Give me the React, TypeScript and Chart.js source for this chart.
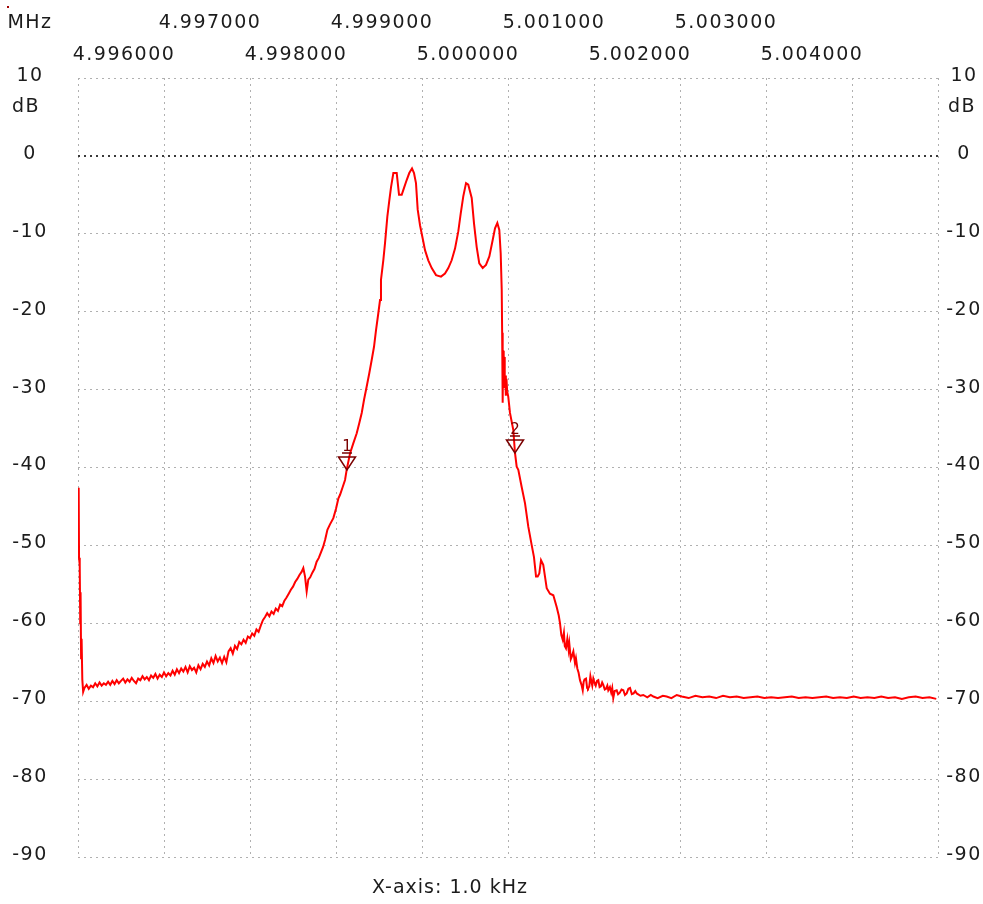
import React, { useEffect, useRef } from "react";
import { Chart, registerables } from "chart.js";

Chart.register(...registerables);

// ---- Trace data (frequency in kHz, level in dB) ----
// Start spike + lower stop-band (left side)
const leftFreqKHz = [
  4996.008, 4996.012, 4996.02, 4996.026, 4996.03, 4996.036, 4996.042, 4996.05, 4996.06,
  4996.075, 4996.1, 4996.125, 4996.15, 4996.175, 4996.2, 4996.225, 4996.25, 4996.275, 4996.3,
  4996.325, 4996.35, 4996.375, 4996.4, 4996.425, 4996.45, 4996.475, 4996.5, 4996.525, 4996.55,
  4996.575, 4996.6, 4996.625, 4996.65, 4996.675, 4996.7, 4996.725, 4996.75, 4996.775, 4996.8,
  4996.825, 4996.85, 4996.875, 4996.9, 4996.925, 4996.95, 4996.975, 4997.0, 4997.025, 4997.05,
  4997.075, 4997.1, 4997.125, 4997.15, 4997.175, 4997.2, 4997.225, 4997.25, 4997.275, 4997.3,
  4997.325, 4997.35, 4997.375, 4997.4, 4997.425, 4997.45, 4997.475, 4997.5, 4997.525, 4997.55,
  4997.575, 4997.6, 4997.625, 4997.65, 4997.675, 4997.7, 4997.725, 4997.75, 4997.775, 4997.8,
  4997.825, 4997.85, 4997.875, 4997.9, 4997.925, 4997.95, 4997.975, 4998.0, 4998.025, 4998.05,
  4998.075, 4998.1, 4998.125, 4998.15, 4998.175, 4998.2, 4998.225, 4998.25, 4998.275, 4998.3,
  4998.325, 4998.35, 4998.375, 4998.4, 4998.425, 4998.45, 4998.475, 4998.5, 4998.525, 4998.55,
  4998.575, 4998.6, 4998.62, 4998.64, 4998.659, 4998.678, 4998.7, 4998.725, 4998.75, 4998.775,
  4998.8, 4998.825, 4998.85, 4998.875, 4998.9, 4998.93, 4998.969,
];
const leftDb = [
  -42.6, -51.6, -52.5, -60.0, -56.0, -64.5, -62.0, -67.2, -68.8,
  -68.3, -67.9, -68.4, -68.0, -68.2, -67.7, -68.1, -67.6, -68.0, -67.7,
  -67.9, -67.5, -67.9, -67.4, -67.8, -67.3, -67.7, -67.4, -67.1, -67.6,
  -67.2, -67.5, -67.0, -67.4, -67.7, -67.1, -67.3, -66.8, -67.2, -66.9,
  -67.3, -66.7, -67.0, -66.5, -67.1, -66.6, -66.9, -66.3, -66.8, -66.4,
  -66.7, -66.1, -66.6, -65.9, -66.4, -65.8, -66.2, -65.6, -66.3, -65.5,
  -66.0, -65.7, -66.3, -65.4, -65.9, -65.2, -65.6, -64.9, -65.4, -64.5,
  -65.1, -64.2, -64.9, -64.4, -65.1, -64.3, -65.0, -63.6, -63.2, -63.9,
  -62.9, -63.3, -62.4, -62.7, -62.1, -62.5, -61.7, -61.9, -61.3, -61.6,
  -60.8, -61.1, -60.3, -59.6, -59.2, -58.7, -59.1, -58.5, -58.8, -58.1,
  -58.4, -57.6, -57.8, -57.1, -56.7, -56.2, -55.7, -55.3, -54.7, -54.3,
  -53.8, -53.4, -52.9, -54.0, -55.9, -54.4, -54.1, -53.5, -53.0, -52.1,
  -51.6, -50.9, -50.2, -49.2, -48.0, -47.3, -46.5,
];

// Lower skirt, pass-band ripples and upper skirt
const passFreqKHz = [
  4999.0, 4999.027, 4999.047, 4999.075, 4999.105, 4999.124, 4999.163, 4999.201, 4999.241, 4999.271,
  4999.299, 4999.326, 4999.357, 4999.387, 4999.415, 4999.442, 4999.465, 4999.492, 4999.512, 4999.523,
  4999.55, 4999.57, 4999.597, 4999.62, 4999.64, 4999.667, 4999.706, 4999.733, 4999.764, 4999.791,
  4999.822, 4999.852, 4999.884, 4999.907, 4999.93, 4999.95, 4999.977, 5000.008, 5000.035, 5000.073,
  5000.113, 5000.163, 5000.221, 5000.267, 5000.306, 5000.345, 5000.384, 5000.422, 5000.45, 5000.48,
  5000.512, 5000.538, 5000.578, 5000.605, 5000.636, 5000.666, 5000.706, 5000.744, 5000.783, 5000.822,
  5000.849, 5000.876, 5000.899, 5000.915, 5000.927, 5000.932, 5000.936, 5000.94, 5000.944, 5000.95,
  5000.955, 5000.962, 5000.968, 5000.975, 5000.982, 5000.99, 5001.003, 5001.023, 5001.062, 5001.081,
  5001.101, 5001.12, 5001.159, 5001.198, 5001.236, 5001.276, 5001.302, 5001.326, 5001.345, 5001.364,
  5001.384, 5001.41, 5001.45, 5001.488, 5001.527,
];
const passDb = [
  -45.3, -44.0, -43.5, -42.6, -41.6, -40.3, -38.2, -36.9, -35.6, -34.3,
  -33.0, -31.3, -29.6, -27.9, -26.2, -24.5, -22.4, -20.2, -18.5, -15.9,
  -13.4, -11.2, -7.8, -5.7, -4.0, -2.2, -2.2, -5.0, -5.0, -4.1,
  -3.1, -2.2, -1.6, -2.2, -3.5, -6.9, -8.9, -10.6, -12.1, -13.4,
  -14.4, -15.3, -15.5, -15.1, -14.4, -13.4, -11.9, -9.7, -7.4, -5.2,
  -3.5, -3.7, -5.4, -8.7, -11.7, -13.8, -14.4, -14.0, -12.9, -10.8,
  -9.3, -8.6, -9.5, -12.5, -17.2, -22.7, -24.6, -31.7, -25.0, -27.5,
  -25.8, -29.8, -28.2, -30.8, -28.6, -30.2, -30.9, -33.0, -35.2, -38.1,
  -39.9, -40.3, -42.5, -44.6, -47.6, -50.0, -51.5, -54.0, -54.0, -53.6,
  -51.9, -52.5, -55.5, -56.2, -56.4,
];

// Upper stop-band (right side)
const rightFreqKHz = [
  5001.566, 5001.59, 5001.605, 5001.62, 5001.636, 5001.65, 5001.66, 5001.674, 5001.69, 5001.705,
  5001.713, 5001.73, 5001.741, 5001.76, 5001.779, 5001.79, 5001.806, 5001.82, 5001.837, 5001.855,
  5001.869, 5001.88, 5001.89, 5001.907, 5001.92, 5001.93, 5001.945, 5001.958, 5001.97, 5001.98,
  5001.992, 5002.005, 5002.02, 5002.035, 5002.05, 5002.065, 5002.08, 5002.095, 5002.108, 5002.125,
  5002.14, 5002.155, 5002.166, 5002.185, 5002.2, 5002.212, 5002.224, 5002.24, 5002.264, 5002.28,
  5002.3, 5002.32, 5002.341, 5002.36, 5002.38, 5002.4, 5002.419, 5002.44, 5002.46, 5002.48,
  5002.497, 5002.54, 5002.573, 5002.62, 5002.66, 5002.69, 5002.74, 5002.8, 5002.845, 5002.9,
  5002.962, 5003.02, 5003.1, 5003.18, 5003.26, 5003.34, 5003.42, 5003.5, 5003.58, 5003.66,
  5003.74, 5003.82, 5003.9, 5003.98, 5004.06, 5004.14, 5004.22, 5004.3, 5004.38, 5004.46,
  5004.54, 5004.62, 5004.7, 5004.78, 5004.86, 5004.94, 5005.02, 5005.1, 5005.18, 5005.26,
  5005.34, 5005.42, 5005.5, 5005.58, 5005.66, 5005.74, 5005.82, 5005.9, 5005.98,
];
const rightDb = [
  -57.9, -59.0, -60.0, -61.5, -62.1, -61.2, -62.9, -63.2, -62.0, -63.4,
  -62.6, -64.6, -64.3, -63.6, -65.1, -64.5, -65.8, -66.3, -67.3, -67.9,
  -68.6, -67.5, -67.2, -67.1, -68.3, -68.4, -68.1, -66.8, -67.5, -68.0,
  -67.1, -67.6, -68.0, -67.4, -67.3, -68.2, -68.1, -67.6, -67.9, -68.5,
  -68.4, -68.0, -68.6, -68.2, -68.9, -68.3, -69.6, -68.7, -68.6, -69.1,
  -68.9, -68.5, -68.6, -69.2, -69.0, -68.4, -68.3, -69.1, -69.0, -68.7,
  -69.0, -69.3, -69.2, -69.5, -69.2, -69.4, -69.6, -69.3, -69.4, -69.6,
  -69.2, -69.4, -69.6, -69.3, -69.5, -69.4, -69.6, -69.3, -69.5, -69.4,
  -69.6, -69.5, -69.4, -69.6, -69.5, -69.6, -69.5, -69.4, -69.6, -69.5,
  -69.6, -69.5, -69.4, -69.6, -69.5, -69.6, -69.4, -69.6, -69.5, -69.6,
  -69.4, -69.6, -69.5, -69.7, -69.5, -69.4, -69.6, -69.5, -69.7,
];

// ---- Axis ticks ----
const xMinKHz = 4996;
const xMaxKHz = 5006;
const topLabelKHz = [4996, 4997, 4998, 4999, 5000, 5001, 5002, 5003, 5004];
const yTickDb = [10, 0, -10, -20, -30, -40, -50, -60, -70, -80, -90];

// ---- Markers ----
const markerNames = ["1", "2"];
const markerFreqKHz = [4999.124, 5001.081];
const markerDb = [-40.3, -38.2];

const xUnitText = "MHz";
const yUnitText = "dB";
const xCaption = "X-axis: 1.0 kHz";

const TEXT_COLOR = "#1c1c1c";
const MARK_COLOR = "#7a0000";

const decorPlugin = {
  id: "decor",
  afterDatasetsDraw(chart: any) {
    const ctx = chart.ctx;
    const xs = chart.scales.x;
    const ys = chart.scales.y;
    ctx.save();
    ctx.strokeStyle = MARK_COLOR;
    ctx.fillStyle = MARK_COLOR;
    ctx.lineWidth = 1.5;
    markerNames.forEach((name, i) => {
      const px = Math.round(xs.getPixelForValue(markerFreqKHz[i]));
      const py = Math.round(ys.getPixelForValue(markerDb[i]));
      ctx.beginPath();
      ctx.moveTo(px, py);
      ctx.lineTo(px - 8.5, py - 13);
      ctx.lineTo(px + 8.5, py - 13);
      ctx.closePath();
      ctx.stroke();
      ctx.beginPath();
      ctx.moveTo(px - 5, py - 17);
      ctx.lineTo(px + 5, py - 17);
      ctx.stroke();
      ctx.font = '15px "DejaVu Sans"';
      ctx.textAlign = "center";
      ctx.textBaseline = "alphabetic";
      ctx.fillText(name, px, py - 19);
    });
    ctx.restore();
  },
  afterDraw(chart: any) {
    const ctx = chart.ctx;
    const xs = chart.scales.x;
    const ys = chart.scales.y;
    const area = chart.chartArea;
    ctx.save();
    ctx.fillStyle = TEXT_COLOR;
    ctx.font = '19px "DejaVu Sans"';
    ctx.textAlign = "center";
    ctx.textBaseline = "middle";
    (ctx as any).letterSpacing = "1.5px";
    topLabelKHz.forEach((v) => {
      const px = xs.getPixelForValue(v);
      const upper = Math.round(v) % 2 === 1;
      ctx.fillText((v / 1000).toFixed(6), px + 46, upper ? 23 : 55);
    });
    yTickDb.forEach((v) => {
      const py = ys.getPixelForValue(v) - 2;
      ctx.fillText(String(v), area.left - 48, py);
      ctx.fillText(String(v), area.right + 26, py);
    });
    ctx.fillText(yUnitText, area.left - 52, 107);
    ctx.fillText(yUnitText, area.right + 24, 107);
    ctx.fillText(xUnitText, 30, 23);
    (ctx as any).letterSpacing = "1px";
    ctx.fillText(xCaption, 450, 888);
    ctx.fillStyle = "#a00000";
    ctx.fillRect(7, 6, 2, 2);
    ctx.restore();
  },
};

export default function App() {
  const canvasRef = useRef<HTMLCanvasElement | null>(null);

  useEffect(() => {
    document.body.style.margin = "0";
    const canvas = canvasRef.current;
    if (!canvas) return;
    const allFreq = [...leftFreqKHz, ...passFreqKHz, ...rightFreqKHz];
    const allDb = [...leftDb, ...passDb, ...rightDb];
    const points = allFreq.map((f, i) => ({ x: f, y: allDb[i] }));
    const chart = new Chart(canvas, {
      type: "line",
      data: {
        datasets: [
          {
            data: points,
            borderColor: "#ff0000",
            borderWidth: 2,
            pointRadius: 0,
            tension: 0,
            fill: false,
          },
        ],
      },
      options: {
        animation: false,
        responsive: false,
        devicePixelRatio: 1,
        layout: { padding: { left: 78, right: 45, top: 78, bottom: 47 } },
        plugins: { legend: { display: false }, tooltip: { enabled: false } },
        scales: {
          x: {
            type: "linear",
            min: xMinKHz,
            max: xMaxKHz,
            ticks: { display: false, stepSize: 1 },
            grid: { drawTicks: false, color: "#b0b0b0", lineWidth: 1 },
            border: { display: false, dash: [2, 4] },
          },
          y: {
            type: "linear",
            min: -90,
            max: 10,
            ticks: { display: false, stepSize: 10 },
            grid: {
              drawTicks: false,
              color: (c: any) => (c.tick && c.tick.value === 0 ? "#3a3a3a" : "#b0b0b0"),
              lineWidth: (c: any) => (c.tick && c.tick.value === 0 ? 2 : 1),
            },
            border: { display: false, dash: [2, 4] },
          },
        },
      },
      plugins: [decorPlugin],
    });
    return () => chart.destroy();
  }, []);

  return (
    <div style={{ width: 983, height: 904, background: "#ffffff" }}>
      <canvas ref={canvasRef} width={983} height={904} style={{ display: "block" }} />
    </div>
  );
}
